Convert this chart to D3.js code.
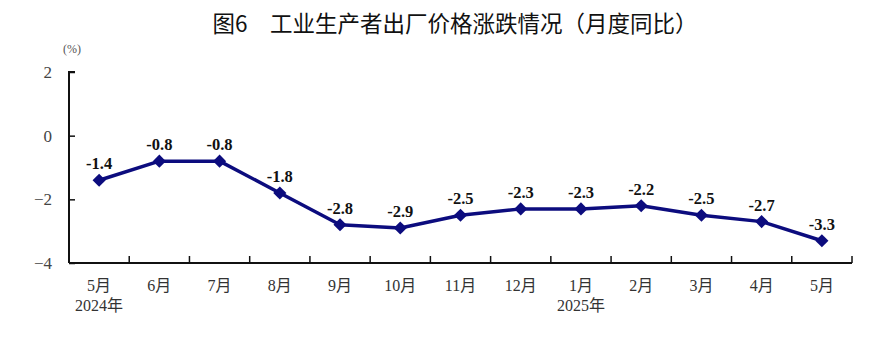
<!DOCTYPE html>
<html><head><meta charset="utf-8">
<script src="https://cdn.jsdelivr.net/npm/d3@7"></script>
<style>body{margin:0;background:#fff;}svg{display:block;}</style>
</head><body>
<svg id="c" width="870" height="364"></svg>
<script>
const categories = ["5月","6月","7月","8月","9月","10月","11月","12月","1月","2月","3月","4月","5月"];
const values = [-1.4,-0.8,-0.8,-1.8,-2.8,-2.9,-2.5,-2.3,-2.3,-2.2,-2.5,-2.7,-3.3];
const yearLabels = [{idx:0,text:"2024年"},{idx:8,text:"2025年"}];
const yTicks = [2,0,-2,-4];
const title = "图6　工业生产者出厂价格涨跌情况（月度同比）";

const svg = d3.select("#c");
const m = {left:69, right:852, top:72, bottom:263};
const idx = categories.map((d,i)=>i);
const x = d3.scaleBand().domain(idx).range([m.left, m.right]);
const y = d3.scaleLinear().domain([-4,2]).range([m.bottom, m.top]);
const serif = "'Liberation Serif','Noto Sans CJK SC',serif";
const cjk = "'Noto Sans CJK SC',sans-serif";

svg.append("text").attr("x",455).attr("y",32).attr("text-anchor","middle")
  .attr("font-family",cjk).attr("font-size",22.5).attr("font-weight",400).attr("fill","#111").text(title);
svg.append("text").attr("x",72).attr("y",53).attr("text-anchor","middle")
  .attr("font-family",serif).attr("font-size",12).attr("fill","#555").text("(%)");

// Y axis
const ya = svg.append("g").attr("transform",`translate(${m.left},0)`)
  .call(d3.axisRight(y).tickValues(yTicks).tickSize(6).tickFormat(()=>""));
ya.select(".domain").attr("stroke","#111").attr("stroke-width",2).attr("d",`M6,${m.top}H0V${m.bottom}`);
ya.selectAll(".tick line").attr("stroke","#111").attr("stroke-width",1.5);
yTicks.forEach(t=>{
  svg.append("text").attr("x",52).attr("y",y(t)+6).attr("text-anchor","end")
    .attr("font-family",serif).attr("font-size",17).attr("fill","#444")
    .text(t<0? "\u2212"+Math.abs(t) : String(t));
});

// X axis
const xa = svg.append("g").attr("transform",`translate(0,${m.bottom})`);
xa.append("line").attr("x1",m.left).attr("x2",m.right).attr("stroke","#111").attr("stroke-width",2);
const bounds = idx.slice(1).map(i=>x(i)).concat([m.right]);
xa.selectAll(".xt").data(bounds).join("line").attr("class","xt")
  .attr("x1",d=>d).attr("x2",d=>d).attr("y1",0).attr("y2",-7).attr("stroke","#111").attr("stroke-width",1.5);
xa.selectAll(".xl").data(idx).join("text").attr("class","xl")
  .attr("x",i=>x(i)+x.bandwidth()/2).attr("y",28).attr("text-anchor","middle")
  .attr("font-family",serif).attr("font-size",16).attr("fill","#333").text(i=>categories[i]);
xa.selectAll(".yl").data(yearLabels).join("text").attr("class","yl")
  .attr("x",d=>x(d.idx)+x.bandwidth()/2).attr("y",48).attr("text-anchor","middle")
  .attr("font-family",serif).attr("font-size",16).attr("fill","#333").text(d=>d.text);

const cx = i=>x(i)+x.bandwidth()/2;
const color = "#0c0c7e";
svg.append("path").datum(idx)
  .attr("d",d3.line().x(cx).y(i=>y(values[i])))
  .attr("fill","none").attr("stroke",color).attr("stroke-width",3.5).attr("stroke-linejoin","round");
svg.selectAll(".pt").data(idx).join("path").attr("class","pt")
  .attr("transform",i=>`translate(${cx(i)},${y(values[i])})`)
  .attr("d",d3.symbol(d3.symbolDiamond2 || d3.symbolDiamond,110)).attr("fill",color);
svg.selectAll(".dl").data(idx).join("text").attr("class","dl")
  .attr("x",cx).attr("y",i=>y(values[i])-11).attr("text-anchor","middle")
  .attr("font-family","'Liberation Serif',serif").attr("font-weight","bold").attr("font-size",16.5).attr("fill","#111")
  .text(i=>values[i].toFixed(1));
</script>
</body></html>
